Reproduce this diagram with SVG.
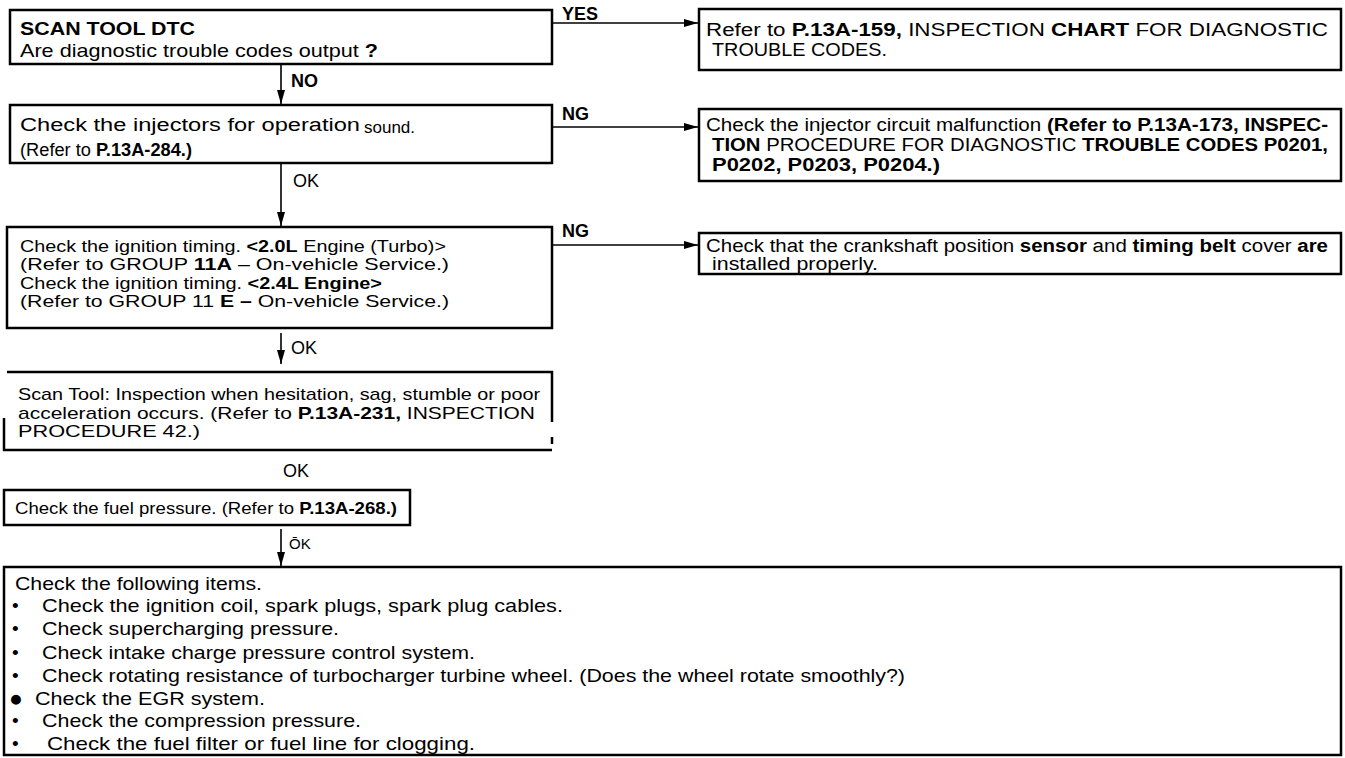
<svg xmlns="http://www.w3.org/2000/svg" width="1345" height="758" viewBox="0 0 1345 758">
<style>
.t{font-family:"Liberation Sans",Arial,Helvetica,sans-serif;font-size:17px;fill:#000}
.m{font-size:18px}
.g{font-size:19px}
.b{font-weight:bold}
.box{fill:#fff;stroke:#000;stroke-width:2.5}
.edge{fill:none;stroke:#000;stroke-width:2.5}
.conn{fill:none;stroke:#000;stroke-width:1.6}
</style>
<defs>
<marker id="ah" viewBox="0 0 14 8" refX="14" refY="4" markerWidth="14" markerHeight="8" markerUnits="userSpaceOnUse" orient="auto"><path d="M0,0 L14,4 L0,8 z" fill="#000"/></marker>
</defs>
<rect width="1345" height="758" fill="#fff"/>
<g id="connectors">
<line class="conn" x1="552" y1="23" x2="698" y2="23" marker-end="url(#ah)"/>
<line class="conn" x1="281" y1="64" x2="281" y2="104" marker-end="url(#ah)"/>
<line class="conn" x1="552" y1="127" x2="698" y2="127" marker-end="url(#ah)"/>
<line class="conn" x1="281" y1="163" x2="281" y2="226" marker-end="url(#ah)"/>
<line class="conn" x1="552" y1="245" x2="698" y2="245" marker-end="url(#ah)"/>
<line class="conn" x1="281" y1="333" x2="281" y2="364" marker-end="url(#ah)"/>
<line class="conn" x1="281" y1="529" x2="281" y2="566" marker-end="url(#ah)"/>
<text class="t m b" x="562" y="20">YES</text>
<text class="t m b" x="291" y="87">NO</text>
<text class="t m b" x="562" y="120">NG</text>
<text class="t m" x="293" y="187">OK</text>
<text class="t m b" x="562" y="237">NG</text>
<text class="t m" x="291" y="354">OK</text>
<text class="t m" x="283" y="477">OK</text>
<text class="t" x="289" y="549" style="font-size:15px">ŌK</text>
</g>
<g id="n1">
<rect class="box" x="10" y="10" width="542" height="54"/>
<text class="t g b" x="20" y="35" textLength="175" lengthAdjust="spacingAndGlyphs">SCAN TOOL DTC</text>
<text class="t g" x="20" y="57" textLength="358" lengthAdjust="spacingAndGlyphs">Are diagnostic trouble codes output <tspan class="b">?</tspan></text>
</g>
<g id="n2">
<rect class="box" x="10" y="105" width="542" height="58"/>
<text class="t m" x="20" y="131" textLength="340" lengthAdjust="spacingAndGlyphs">Check the injectors for operation</text>
<text class="t" x="364" y="133">sound.</text>
<text class="t m" x="20" y="156" textLength="172" lengthAdjust="spacingAndGlyphs">(Refer to <tspan class="b">P.13A-284.)</tspan></text>
</g>
<g id="n3">
<rect class="box" x="7" y="227" width="545" height="101"/>
<text class="t" x="20" y="252" textLength="426" lengthAdjust="spacingAndGlyphs">Check the ignition timing. <tspan class="b">&lt;2.0L</tspan> Engine (Turbo)&gt;</text>
<text class="t" x="20" y="270" textLength="429" lengthAdjust="spacingAndGlyphs">(Refer to GROUP <tspan class="b">11A</tspan> – On-vehicle Service.)</text>
<text class="t" x="20" y="289" textLength="362" lengthAdjust="spacingAndGlyphs">Check the ignition timing. <tspan class="b">&lt;2.4L Engine&gt;</tspan></text>
<text class="t" x="20" y="307" textLength="429" lengthAdjust="spacingAndGlyphs">(Refer to GROUP 11 <tspan class="b">E –</tspan> On-vehicle Service.)</text>
</g>
<g id="n4">
<rect class="box" x="699" y="9" width="642" height="61"/>
<text class="t m" x="706" y="36" textLength="622" lengthAdjust="spacingAndGlyphs">Refer to <tspan class="b">P.13A-159,</tspan> INSPECTION <tspan class="b">CHART</tspan> FOR DIAGNOSTIC</text>
<text class="t m" x="712" y="56" textLength="175" lengthAdjust="spacingAndGlyphs">TROUBLE CODES.</text>
</g>
<g id="n5">
<rect class="box" x="699" y="109" width="642" height="72"/>
<text class="t m" x="706" y="131" textLength="622" lengthAdjust="spacingAndGlyphs">Check the injector circuit malfunction <tspan class="b">(Refer to P.13A-173, INSPEC-</tspan></text>
<text class="t m" x="712" y="151" textLength="616" lengthAdjust="spacingAndGlyphs"><tspan class="b">TION</tspan> PROCEDURE FOR DIAGNOSTIC <tspan class="b">TROUBLE CODES P0201,</tspan></text>
<text class="t m b" x="712" y="171" textLength="228" lengthAdjust="spacingAndGlyphs">P0202, P0203, P0204.)</text>
</g>
<g id="n6">
<rect class="box" x="699" y="233" width="642" height="41"/>
<text class="t m" x="706" y="252" textLength="622" lengthAdjust="spacingAndGlyphs">Check that the crankshaft position <tspan class="b">sensor</tspan> and <tspan class="b">timing belt</tspan> cover <tspan class="b">are</tspan></text>
<text class="t m" x="712" y="270" textLength="166" lengthAdjust="spacingAndGlyphs">installed properly.</text>
</g>
<g id="n7">
<path class="edge" d="M7,372 H552 V422 M552,437 V444 M4,418 V450 H552"/>
<text class="t" x="18" y="400" textLength="522" lengthAdjust="spacingAndGlyphs">Scan Tool: Inspection when hesitation, sag, stumble or poor</text>
<text class="t" x="18" y="419" textLength="517" lengthAdjust="spacingAndGlyphs">acceleration occurs. (Refer to <tspan class="b">P.13A-231,</tspan> INSPECTION</text>
<text class="t" x="18" y="437" textLength="182" lengthAdjust="spacingAndGlyphs">PROCEDURE  42.)</text>
</g>
<g id="n8">
<rect class="box" x="4" y="490" width="406" height="35"/>
<text class="t" x="15" y="514" textLength="382" lengthAdjust="spacingAndGlyphs">Check the fuel pressure. (Refer to <tspan class="b">P.13A-268.)</tspan></text>
</g>
<g id="n9">
<rect class="box" x="4" y="567" width="1337" height="188"/>
<text class="t g" x="15" y="590" textLength="247" lengthAdjust="spacingAndGlyphs">Check the following items.</text>
<text class="t g" x="12" y="612">•</text>
<text class="t g" x="42" y="612" textLength="521" lengthAdjust="spacingAndGlyphs">Check the ignition coil, spark plugs, spark plug cables.</text>
<text class="t g" x="12" y="635">•</text>
<text class="t g" x="42" y="635" textLength="297" lengthAdjust="spacingAndGlyphs">Check supercharging pressure.</text>
<text class="t g" x="12" y="659">•</text>
<text class="t g" x="42" y="659" textLength="433" lengthAdjust="spacingAndGlyphs">Check intake charge pressure control system.</text>
<text class="t g" x="12" y="682">•</text>
<text class="t g" x="42" y="682" textLength="863" lengthAdjust="spacingAndGlyphs">Check rotating resistance of turbocharger turbine wheel. (Does the wheel rotate smoothly?)</text>
<text class="t" x="9" y="706" style="font-size:23px">●</text>
<text class="t g" x="35" y="705" textLength="230" lengthAdjust="spacingAndGlyphs">Check the EGR system.</text>
<text class="t g" x="12" y="727">•</text>
<text class="t g" x="42" y="727" textLength="319" lengthAdjust="spacingAndGlyphs">Check the compression pressure.</text>
<text class="t g" x="12" y="750">•</text>
<text class="t g" x="47" y="750" textLength="428" lengthAdjust="spacingAndGlyphs">Check the fuel filter or fuel line for clogging.</text>
</g>
</svg>
